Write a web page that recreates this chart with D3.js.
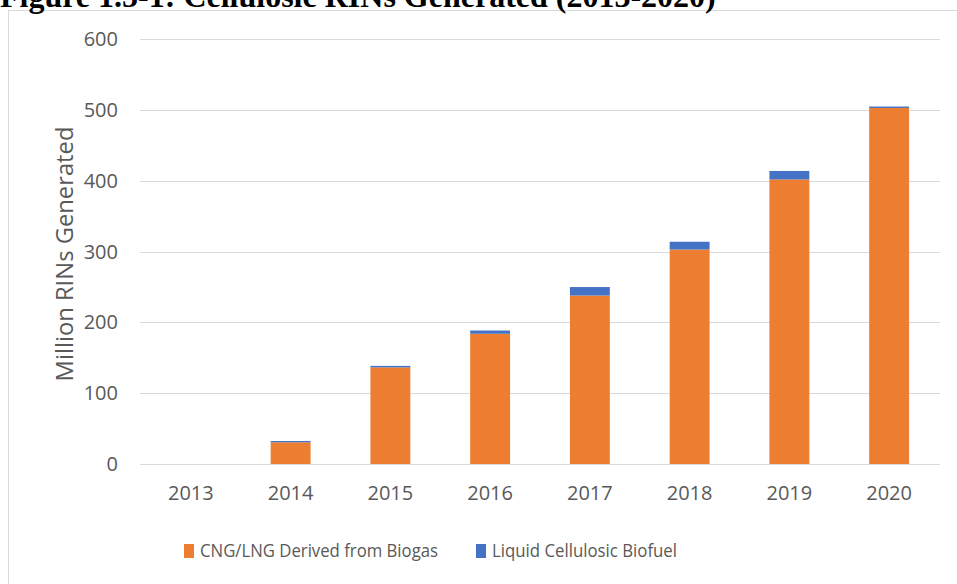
<!DOCTYPE html>
<html>
<head>
<meta charset="utf-8">
<script src="https://cdn.jsdelivr.net/npm/d3@7"></script>
<style>
  html, body { margin: 0; padding: 0; background: #fff; }
  svg { display: block; }
</style>
</head>
<body>
<svg id="chart" width="957" height="584"></svg>
<script>
const years = ["2013", "2014", "2015", "2016", "2017", "2018", "2019", "2020"];
const cngLng = [0, 30.7, 136.5, 184, 238, 303, 402, 503];
const liquid = [0, 1.8, 2.1, 4.6, 12, 11, 12, 2];
const seriesNames = ["CNG/LNG Derived from Biogas", "Liquid Cellulosic Biofuel"];
const seriesColors = ["#ED7D31", "#4472C4"];
const yTicks = [0, 100, 200, 300, 400, 500, 600];
const titleText = "Figure 1.5-1: Cellulosic RINs Generated (2013-2020)";
const yTitle = "Million RINs Generated";

const svg = d3.select("#chart");
const fontSans = "'Open Sans', 'Noto Sans', sans-serif";

// outer frame
svg.append("rect").attr("x", 8.5).attr("y", 10.5).attr("width", 960).attr("height", 590)
  .attr("fill", "none").attr("stroke", "#d9d9d9").attr("stroke-width", 1);

// title (partly cut off at the top, as in the source image)
svg.append("text").attr("x", 0).attr("y", 7)
  .attr("font-family", "'Liberation Serif', 'Times New Roman', serif")
  .attr("font-weight", "bold").attr("font-size", 32).attr("fill", "#000")
  .text(titleText);

const x = d3.scaleBand().domain(years).range([141, 939]).paddingInner(0.6).paddingOuter(0.3);
const y = d3.scaleLinear().domain([0, 600]).range([464, 39.3]);

// gridlines
svg.append("g").selectAll("line").data(yTicks).join("line")
  .attr("x1", 140).attr("x2", 940)
  .attr("y1", d => Math.round(y(d)) + 0.5).attr("y2", d => Math.round(y(d)) + 0.5)
  .attr("stroke", "#d9d9d9").attr("stroke-width", 1);

// y axis labels
const yAxis = d3.axisLeft(y).tickValues(yTicks).tickSize(0).tickPadding(0);
const yg = svg.append("g").attr("transform", "translate(118,0)").call(yAxis);
yg.select(".domain").remove();
yg.selectAll("text").attr("font-family", fontSans).attr("font-size", 20).attr("fill", "#595959");

// x axis labels
const xAxis = d3.axisBottom(x).tickSize(0).tickPadding(0);
const xg = svg.append("g").attr("transform", "translate(0,486)").call(xAxis);
xg.select(".domain").remove();
xg.selectAll("text").attr("font-family", fontSans).attr("font-size", 20).attr("fill", "#595959");

// stacked data
const rows = years.map((yr, i) => ({ year: yr, a: cngLng[i], b: liquid[i] }));
const stack = d3.stack().keys(["a", "b"])(rows);

svg.append("g").selectAll("g").data(stack).join("g")
  .attr("fill", (d, i) => seriesColors[i])
  .selectAll("rect").data(d => d).join("rect")
  .attr("x", d => x(d.data.year))
  .attr("width", x.bandwidth())
  .attr("y", d => y(d[1]))
  .attr("height", d => Math.max(0, y(d[0]) - y(d[1])));

// y title
svg.append("text")
  .attr("transform", "translate(73,254) rotate(-90)")
  .attr("text-anchor", "middle")
  .attr("font-family", fontSans).attr("font-size", 23).attr("fill", "#595959")
  .attr("textLength", 255).attr("lengthAdjust", "spacingAndGlyphs")
  .text(yTitle);

// legend
const legend = svg.append("g");
const legendX = [184, 476];
const legendW = [238, 185];
seriesNames.forEach((name, i) => {
  const g = legend.append("g").attr("transform", `translate(${legendX[i]},0)`);
  g.append("rect").attr("x", 0).attr("y", 544).attr("width", 10).attr("height", 14).attr("fill", seriesColors[i]);
  g.append("text").attr("x", 16).attr("y", 557)
    .attr("font-family", fontSans).attr("font-size", 18).attr("fill", "#595959")
    .attr("textLength", legendW[i]).attr("lengthAdjust", "spacingAndGlyphs")
    .text(name);
});
</script>
</body>
</html>
